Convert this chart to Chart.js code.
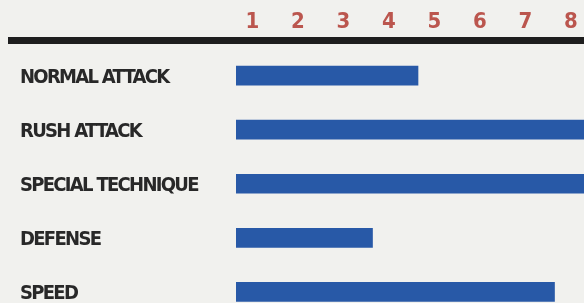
<!DOCTYPE html>
<html>
<head>
<meta charset="utf-8">
<script src="https://cdn.jsdelivr.net/npm/chart.js@4/dist/chart.umd.min.js"></script>
<style>
  html, body { margin: 0; padding: 0; width: 584px; height: 303px; overflow: hidden; background: #f1f1ee; }
  #wrap { position: absolute; left: 0; top: 0; width: 600px; height: 319px; }
  canvas { display: block; }
</style>
</head>
<body>
<div id="wrap"><canvas id="c"></canvas></div>
<script>
const categories = ['NORMAL ATTACK', 'RUSH ATTACK', 'SPECIAL TECHNIQUE', 'DEFENSE', 'SPEED'];
const ratings = [4, 8, 8, 3, 7];
const tickLabels = ['1', '2', '3', '4', '5', '6', '7', '8'];

const FONT = "'Liberation Sans Narrow', 'DejaVu Sans Condensed', 'Arial Narrow', sans-serif";

const tightText = {
  id: 'tightText',
  beforeUpdate(chart) { chart.ctx.letterSpacing = '-1.7px'; },
  beforeDraw(chart) { chart.ctx.letterSpacing = '-1.7px'; }
};

const ruleLine = {
  id: 'ruleLine',
  beforeDatasetsDraw(chart) {
    const ctx = chart.ctx;
    const y = chart.chartArea.top - 8;
    ctx.save();
    ctx.strokeStyle = '#1e1e1e';
    ctx.lineWidth = 7;
    ctx.beginPath();
    ctx.moveTo(8, y);
    ctx.lineTo(chart.width, y);
    ctx.stroke();
    ctx.restore();
  }
};

new Chart(document.getElementById('c'), {
  type: 'bar',
  data: {
    labels: categories,
    datasets: [{
      data: ratings,
      backgroundColor: '#2859a7',
      borderWidth: 0,
      barThickness: 19
    }]
  },
  options: {
    indexAxis: 'y',
    responsive: true,
    maintainAspectRatio: false,
    devicePixelRatio: 1,
    animation: false,
    layout: { padding: { left: 20, top: 0, right: 0, bottom: 0 } },
    plugins: { legend: { display: false }, tooltip: { enabled: false } },
    scales: {
      x: {
        position: 'top',
        min: 0,
        max: tickLabels.length,
        grid: { display: false, drawTicks: false },
        border: { display: false },
        afterBuildTicks(scale) {
          scale.ticks = tickLabels.map((t, i) => ({ value: i + 1 }));
        },
        afterFit(scale) {
          scale.height = 48.5;
          scale.paddingLeft = 0;
          scale.paddingRight = 0;
        },
        ticks: {
          stepSize: 1,
          labelOffset: -30,
          padding: 13,
          color: '#bb564e',
          font: { family: FONT, size: 22, weight: 'bold' },
          callback: (v, i) => tickLabels[i]
        }
      },
      y: {
        grid: { display: false, drawTicks: false },
        border: { display: false },
        afterFit(scale) {
          scale.width = 216;
          scale.paddingTop = 0;
          scale.paddingBottom = 0;
        },
        ticks: {
          crossAlign: 'far',
          labelOffset: 2,
          color: '#282828',
          font: { family: FONT, size: 20, weight: 'bold' }
        }
      }
    }
  },
  plugins: [tightText, ruleLine]
});
</script>
</body>
</html>
